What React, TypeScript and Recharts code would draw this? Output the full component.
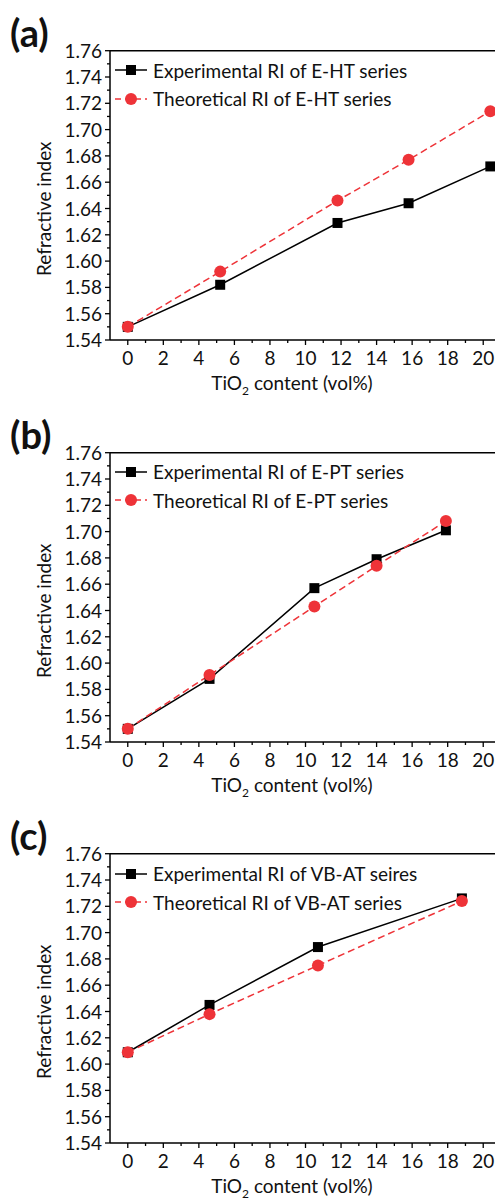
import React from 'react';
import { LineChart, Line, XAxis, YAxis, ReferenceLine } from 'recharts';

// x positions (TiO2 vol%) and refractive index values, one set per panel
const xA = [0, 5.2, 11.8, 15.8, 20.4];
const expA = [1.55, 1.582, 1.629, 1.644, 1.672];
const theoA = [1.55, 1.592, 1.646, 1.677, 1.714];

const xB = [0, 4.6, 10.5, 14.0, 17.9];
const expB = [1.55, 1.588, 1.657, 1.679, 1.701];
const theoB = [1.55, 1.591, 1.643, 1.674, 1.708];

const xC = [0, 4.6, 10.7, 18.8];
const expC = [1.609, 1.645, 1.689, 1.726];
const theoC = [1.609, 1.638, 1.675, 1.724];

const xTicks = [0, 1, 2, 3, 4, 5, 6, 7, 8, 9, 10, 11, 12, 13, 14, 15, 16, 17, 18, 19, 20];
const yTicks = [
    1.54, 1.55, 1.56, 1.57, 1.58, 1.59, 1.6, 1.61, 1.62, 1.63, 1.64, 1.65,
    1.66, 1.67, 1.68, 1.69, 1.7, 1.71, 1.72, 1.73, 1.74, 1.75, 1.76,
];

const FONT = 'Lato, sans-serif';
const FS = 19;
const RED = '#ee3338';

const XTick = (props: any) => {
    const { x, y, payload } = props;
    const major = payload.value % 2 === 0;
    return (
        <g>
            <line x1={x} x2={x} y1={y} y2={y + (major ? 5 : 3)} stroke="#000" strokeWidth={1.3} />
            {major && (
                <text x={x} y={y + 25} textAnchor="middle" fontSize={FS} fontFamily={FONT} fill="#111">
                    {payload.value}
                </text>
            )}
        </g>
    );
};

const YTick = (props: any) => {
    const { x, y, payload } = props;
    const major = Math.round(payload.value * 100) % 2 === 0;
    return (
        <g>
            <line x1={x - (major ? 5 : 3)} x2={x} y1={y} y2={y} stroke="#000" strokeWidth={1.3} />
            {major && (
                <text x={x - 8} y={y + 7} textAnchor="end" fontSize={FS} fontFamily={FONT} fill="#111">
                    {payload.value.toFixed(2)}
                </text>
            )}
        </g>
    );
};

const squareDot = (p: any) => (
    <rect key={'s' + p.index} x={p.cx - 5} y={p.cy - 5} width={10} height={10} fill="#000" />
);
const circleDot = (p: any) => <circle key={'c' + p.index} cx={p.cx} cy={p.cy} r={6} fill={RED} />;

function Panel({ tag, top, xs, exp, theo, expName, theoName }: any) {
    const rows = xs.map((v: number, i: number) => ({ x: v, exp: exp[i], theo: theo[i] }));
    return (
        <div style={{ position: 'absolute', left: 0, top, width: 501, height: 401 }}>
            <LineChart width={501} height={401} data={rows} margin={{ top: 50.7, right: 0, bottom: 0, left: 0 }}>
                <XAxis
                    dataKey="x"
                    type="number"
                    domain={[-1, 21]}
                    ticks={xTicks}
                    interval={0}
                    height={61}
                    tickSize={0}
                    tickMargin={0}
                    tickLine={false}
                    axisLine={{ stroke: '#000', strokeWidth: 1.5 }}
                    tick={<XTick />}
                    label={{
                        content: (lp: any) => (
                            <text x={292} y={lp.viewBox.y + 50} textAnchor="middle" fontSize={FS} fontFamily={FONT} fill="#111">
                                TiO
                                <tspan fontSize={12} dy={5}>2</tspan>
                                <tspan dy={-5}> content (vol%)</tspan>
                            </text>
                        ),
                    }}
                />
                <YAxis
                    type="number"
                    domain={[1.54, 1.76]}
                    ticks={yTicks}
                    interval={0}
                    width={110}
                    tickSize={0}
                    tickMargin={0}
                    tickLine={false}
                    axisLine={{ stroke: '#000', strokeWidth: 1.5 }}
                    tick={<YTick />}
                    label={{
                        content: (lp: any) => {
                            const cy = lp.viewBox.y + 158;
                            return (
                                <text x={51} y={cy} transform={`rotate(-90 51 ${cy})`} textAnchor="middle" fontSize={FS} fontFamily={FONT} fill="#111">
                                    Refractive index
                                </text>
                            );
                        },
                    }}
                />
                <ReferenceLine y={1.76} stroke="#000" strokeWidth={1.5} ifOverflow="visible" />
                <Line dataKey="exp" stroke="#000" strokeWidth={1.5} dot={squareDot} isAnimationActive={false} />
                <Line dataKey="theo" stroke={RED} strokeWidth={1.5} strokeDasharray="7 4" dot={circleDot} isAnimationActive={false} />
            </LineChart>
            <div style={{ position: 'absolute', left: 10, top: 10, fontFamily: FONT, fontWeight: 'bold', fontSize: 38, lineHeight: '44px', color: '#111' }}>
                {tag}
            </div>
            <div style={{ position: 'absolute', left: 114, top: 56, fontFamily: FONT, fontSize: FS, color: '#111' }}>
                <div style={{ display: 'flex', alignItems: 'center', height: 28.6 }}>
                    <svg width={36} height={20}>
                        <line x1={1} x2={33} y1={10} y2={10} stroke="#000" strokeWidth={1.5} />
                        <rect x={12} y={5} width={10} height={10} fill="#000" />
                    </svg>
                    <span style={{ marginLeft: 3 }}>{expName}</span>
                </div>
                <div style={{ display: 'flex', alignItems: 'center', height: 28.6 }}>
                    <svg width={36} height={20}>
                        <line x1={1} x2={33} y1={10} y2={10} stroke={RED} strokeWidth={1.5} strokeDasharray="6 4" />
                        <circle cx={17} cy={10} r={6} fill={RED} />
                    </svg>
                    <span style={{ marginLeft: 3 }}>{theoName}</span>
                </div>
            </div>
        </div>
    );
}

export default function App() {
    return (
        <div style={{ position: 'absolute', left: 0, top: 0, width: 495, height: 1201, overflow: 'hidden', background: '#fff' }}>
            <Panel tag="(a)" top={0} xs={xA} exp={expA} theo={theoA}
                expName="Experimental RI of E-HT series" theoName="Theoretical RI of E-HT series" />
            <Panel tag="(b)" top={401.6} xs={xB} exp={expB} theo={theoB}
                expName="Experimental RI of E-PT series" theoName="Theoretical RI of E-PT series" />
            <Panel tag="(c)" top={803.3} xs={xC} exp={expC} theo={theoC}
                expName="Experimental RI of VB-AT seires" theoName="Theoretical RI of VB-AT series" />
        </div>
    );
}
